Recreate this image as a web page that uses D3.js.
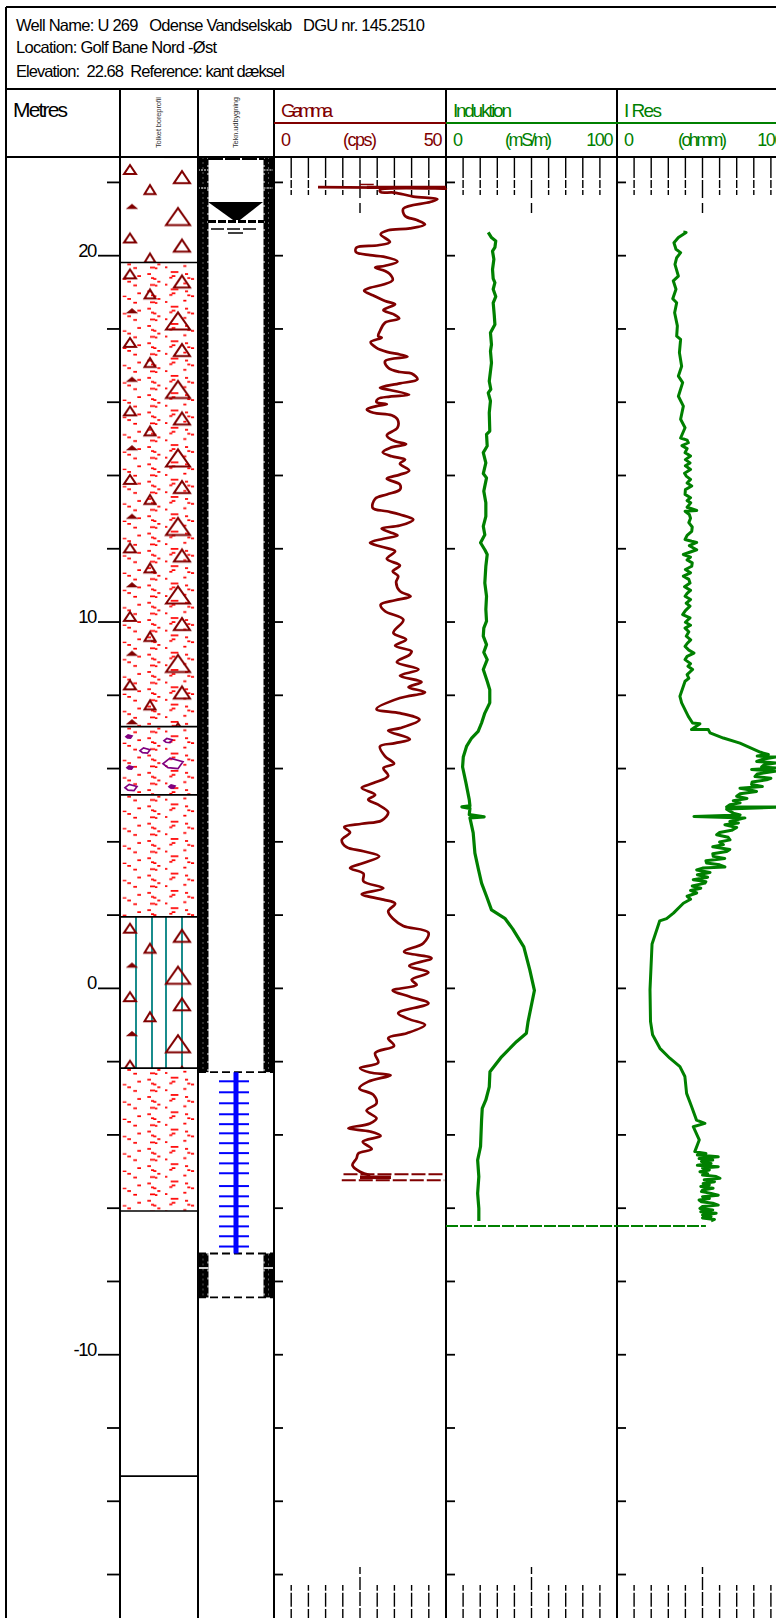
<!DOCTYPE html>
<html lang="en">
<head>
<meta charset="UTF-8">
<title>U 269 well log</title>
<script src="https://d3js.org/d3.v7.min.js"></script>
<style>
    body { margin: 0; background: #fff; }
    svg { display: block; }
    text { font-family: "Liberation Sans", Arial, sans-serif; white-space: pre; }
    .axis path { display: none; }
    .axis line { stroke: #000; stroke-width: 1.8px; }
</style>
</head>
<body>
<svg id="log" width="776" height="1618"></svg>
<script>
// header text
var headerLines = ["Well Name: U 269   Odense Vandselskab   DGU nr. 145.2510", "Location: Golf Bane Nord -Øst", "Elevation:  22.68  Reference: kant dæksel"];

// elevation ticks (metres)
var minorTicks = [22, 18, 16, 14, 12, 8, 6, 4, 2, -2, -4, -6, -8, -12, -14, -16];
var majorTicks = [20, 10, 0, -10];

// gamma log
var gammaDepth = [21.86, 21.82, 21.78, 21.72, 21.71, 21.60, 21.53, 21.45, 21.27, 21.07, 20.96, 20.84, 20.73, 20.68, 20.57, 20.36, 20.27, 20.21, 20.09, 20.00, 19.96, 19.83, 19.71, 19.66, 19.57, 19.48, 19.32, 19.20, 19.11, 19.03, 18.90, 18.75, 18.66, 18.50, 18.39, 18.27, 18.16, 17.93, 17.79, 17.75, 17.63, 17.47, 17.36, 17.29, 17.23, 17.11, 16.93, 16.81, 16.77, 16.61, 16.50, 16.38, 16.32, 16.19, 16.14, 16.08, 15.99, 15.93, 15.88, 15.79, 15.70, 15.63, 15.52, 15.29, 15.08, 14.92, 14.84, 14.74, 14.62, 14.51, 14.42, 14.31, 14.12, 14.01, 13.90, 13.74, 13.60, 13.47, 13.35, 13.10, 13.01, 12.92, 12.78, 12.62, 12.54, 12.44, 12.35, 12.26, 12.15, 12.04, 11.92, 11.71, 11.53, 11.37, 11.24, 11.07, 10.83, 10.69, 10.58, 10.46, 10.28, 10.05, 9.69, 9.51, 9.34, 9.19, 9.10, 8.89, 8.69, 8.52, 8.35, 8.21, 8.07, 7.91, 7.61, 7.50, 7.32, 7.09, 7.02, 6.79, 6.68, 6.59, 6.32, 6.12, 6.00, 5.79, 5.59, 5.46, 5.27, 5.14, 5.00, 4.79, 4.57, 4.48, 4.39, 4.24, 4.04, 3.84, 3.73, 3.59, 3.41, 3.27, 3.12, 2.91, 2.72, 2.56, 2.41, 2.30, 2.09, 1.88, 1.69, 1.51, 1.22, 0.99, 0.81, 0.60, 0.42, 0.22, 0.08, -0.07, -0.24, -0.42, -0.69, -0.86, -1.01, -1.24, -1.37, -1.58, -1.78, -2.04, -2.19, -2.31, -2.38, -2.56, -2.74, -2.92, -3.15, -3.35, -3.56, -3.70, -3.83, -3.92, -4.04, -4.20, -4.40, -4.52, -4.65, -4.84, -5.02, -5.12];
var gammaCps = [12.8, 50, 30.8, 31, 34.9, 40.5, 47.5, 45.4, 37.6, 38.1, 41.5, 43.9, 39.5, 33.2, 31.0, 33.7, 30.3, 24.0, 23.8, 27.9, 31.8, 35.9, 32.3, 29.4, 32.3, 33.7, 34.5, 31.8, 27.9, 26.2, 28.9, 32.3, 35.2, 31.8, 34.7, 36.4, 32.3, 30.8, 30.3, 31.3, 28.1, 29.8, 32.8, 36.6, 38.8, 32.3, 33.2, 36.6, 40.0, 41.7, 36.6, 30.8, 33.7, 39.3, 33.7, 30.3, 29.8, 32.8, 29.8, 27.0, 28.9, 34.2, 35.9, 35.9, 32.8, 35.2, 38.4, 33.7, 31.6, 34.2, 38.1, 36.6, 39.3, 36.6, 32.8, 36.6, 36.6, 32.8, 29.4, 28.7, 32.8, 36.6, 40.5, 36.6, 31.3, 33.7, 35.9, 31.8, 27.9, 31.3, 35.2, 32.8, 36.6, 34.5, 36.1, 35.5, 36.6, 39.7, 35.2, 31.0, 32.3, 37.6, 34.7, 38.4, 35.2, 40.0, 39.5, 35.7, 42.0, 36.6, 42.9, 39.1, 43.9, 36.6, 29.8, 36.6, 42.3, 36.6, 33.2, 39.5, 35.2, 30.8, 32.3, 34.9, 31.8, 33.2, 28.9, 25.5, 29.4, 27.4, 30.3, 33.2, 31.3, 25.5, 20.4, 22.1, 19.7, 21.1, 26.0, 30.6, 26.0, 22.1, 26.0, 26.0, 31.8, 25.5, 31.8, 35.2, 33.2, 34.7, 37.6, 44.9, 43.4, 37.8, 45.8, 39.3, 44.9, 40.0, 41.5, 34.5, 39.5, 44.9, 36.1, 39.5, 43.9, 38.6, 33.2, 34.9, 29.4, 30.3, 25.0, 27.9, 33.9, 27.4, 24.8, 28.9, 29.8, 26.9, 29.8, 27.9, 21.6, 27.9, 31.0, 25.8, 28.4, 24.5, 24.0, 22.8, 25.0, 28.0];
// flat spikes at both ends of the gamma run
var gammaSpikeDepth = [21.93, 21.85, -5.09, -5.17, -5.25];
var gammaSpikeFrom = [25, 27, 20.2, 25, 19.7];
var gammaSpikeTo = [29, 50, 50, 34, 49.5];
var gammaSpikeWidth = [1.5, 3.4, 2, 3.6, 2];
var gammaSpikeDash = [null, null, "14,3", null, "14,3"];

// induction log
var indDepth = [20.62, 20.48, 20.39, 20.21, 20.11, 19.89, 19.61, 19.36, 19.25, 19.07, 18.87, 18.70, 18.38, 18.11, 17.88, 17.56, 17.38, 17.06, 16.56, 16.34, 16.24, 16.02, 15.70, 15.20, 15.11, 14.79, 14.61, 14.33, 14.04, 13.92, 13.56, 13.24, 12.87, 12.60, 12.37, 12.15, 11.96, 11.83, 11.51, 11.05, 10.69, 10.33, 10.01, 9.82, 9.60, 9.37, 9.16, 8.96, 8.69, 8.37, 8.14, 7.78, 7.50, 7.23, 7.00, 6.82, 6.59, 6.30, 6.03, 5.59, 5.14, 4.97, 4.94, 4.90, 4.73, 4.67, 4.64, 4.23, 3.68, 3.27, 2.86, 2.50, 2.13, 1.90, 1.61, 1.12, 0.49, -0.07, -0.92, -1.24, -1.47, -1.88, -2.29, -2.70, -3.06, -3.29, -3.61, -4.33, -4.70, -5.15, -5.61, -6.02, -6.36];
var indValue = [24.7, 26.6, 29.1, 28.6, 27.2, 28.0, 27.2, 27.6, 28.6, 27.6, 29.1, 27.6, 28.2, 28.6, 26.0, 26.6, 26.0, 26.6, 25.3, 26.2, 24.7, 26.0, 25.3, 25.6, 23.7, 24.1, 21.8, 23.3, 21.8, 23.7, 22.1, 23.3, 23.3, 21.8, 22.7, 20.2, 22.7, 24.1, 23.3, 22.7, 23.7, 23.3, 23.7, 22.1, 21.8, 23.7, 22.1, 24.1, 21.8, 24.1, 25.6, 25.6, 22.7, 20.8, 18.8, 15.0, 12.0, 10.1, 9.7, 11.7, 13.6, 14.0, 9.3, 14.0, 13.6, 22.3, 14.0, 15.9, 16.9, 18.8, 20.8, 23.7, 26.6, 34.4, 39.0, 45.5, 49.0, 51.7, 48.0, 47.0, 41.2, 32.5, 25.7, 25.3, 23.3, 21.2, 20.8, 20.2, 18.5, 19.2, 18.5, 19.2, 19.2];

// resistivity log
var resDepth = [20.63, 20.62, 20.48, 20.34, 20.16, 20.07, 19.93, 19.75, 19.43, 19.30, 19.07, 18.81, 18.70, 18.43, 18.07, 17.79, 17.70, 17.34, 16.97, 16.70, 16.52, 16.15, 15.88, 15.52, 15.29,
    15.01, 14.95, 14.88, 14.80, 14.72, 14.61, 14.52, 14.42, 14.33, 14.25, 14.15, 14.05, 13.97, 13.88, 13.78, 13.70, 13.60, 13.47, 13.38, 13.30, 13.24, 13.12, 13.03, 13.01, 12.92, 12.82, 12.70, 12.58, 12.46, 12.35, 12.24, 12.19, 12.16, 12.07, 11.96, 11.83, 11.76, 11.68, 11.60, 11.51, 11.42, 11.33, 11.24, 11.15, 11.05, 10.95, 10.85, 10.77, 10.69, 10.60, 10.50, 10.42, 10.30, 10.19, 10.10, 9.98, 9.90, 9.82, 9.72, 9.60, 9.50, 9.40, 9.32, 9.22, 9.14, 9.05, 8.96, 8.85, 8.78, 8.69, 8.55, 8.45, 8.37,
    7.96, 7.78, 7.41, 7.23, 7.21, 7.05, 7.05, 6.96, 6.82, 6.68,
    6.50, 6.43, 6.37, 6.33, 6.30, 6.24, 6.18, 6.14, 6.09, 6.03, 6.00, 5.96, 5.91, 5.84, 5.77, 5.72, 5.68, 5.62, 5.55, 5.50, 5.45, 5.40, 5.36, 5.30, 5.23, 5.17, 5.11, 5.05, 5.00, 4.94, 4.94, 4.88, 4.77, 4.72, 4.68, 4.64, 4.54, 4.50, 4.45, 4.38, 4.30, 4.24, 4.18, 4.11, 4.04, 3.98, 3.91, 3.85, 3.78, 3.72, 3.66, 3.59, 3.53, 3.47, 3.41, 3.36, 3.30, 3.27, 3.22, 3.15, 3.09, 3.02, 2.95, 2.90, 2.86, 2.78, 2.72, 2.66, 2.59, 2.50, 2.42, 2.31,
    2.04, 1.89, 1.83, 1.20, -0.05, -0.92, -1.28, -1.65, -1.92, -2.15, -2.42, -2.88, -3.24, -3.61, -3.70, -3.79, -4.15,
    -4.47, -4.52, -4.56, -4.61, -4.66, -4.70, -4.74, -4.79, -4.84, -4.88, -4.92, -4.97, -5.02, -5.07, -5.11, -5.15, -5.20, -5.24, -5.29, -5.34, -5.38, -5.42, -5.47, -5.52, -5.56, -5.61, -5.66, -5.70, -5.75, -5.79, -5.84, -5.88, -5.93, -5.97, -6.02, -6.06, -6.11, -6.15, -6.20, -6.24, -6.28, -6.32, -6.36];
var resValue = [38.8, 40.4, 35.9, 33.3, 34.5, 37.2, 34.9, 33.9, 35.9, 32.9, 34.5, 32.6, 34.9, 33.7, 35.3, 34.9, 37.2, 36.5, 37.8, 35.9, 38.4, 35.9, 38.8, 37.2, 39.8,
    37.2, 41, 41.7, 38, 41, 39.8, 43, 40, 42.7, 40, 43, 39.5, 40.5, 43, 41, 43.7, 40, 39.8, 43, 41, 43.1, 41, 46.6, 39.8, 42.3, 43, 42, 44, 43.7, 41, 39.8, 43.7, 46.6, 42.3, 46.6, 38.8, 43, 41, 44, 43.7, 40, 43, 38.8, 42, 42.7, 39.5, 43, 41, 39.8, 43, 40.5, 42.7, 40, 38.4, 42.7, 40, 43, 39.8, 42, 40.5, 43.1, 41, 39.8, 42, 45, 41, 39.8, 43, 41.5, 44.2, 41, 42, 39.8,
    36.8, 37.8, 41.7, 44.2, 48.5, 43.6, 53.4, 54.4, 62.2, 71.9,
    80.7, 84, 88.5, 82, 93, 85, 81.7, 93.4, 86, 84.6, 93.4, 78.7, 92.4, 82, 80.7, 90, 87.5, 79, 78.7, 85, 71.9, 78, 81.6, 72, 70, 76, 68, 72, 66, 64.1, 100, 64.1, 68, 72, 45, 74.8, 66, 71, 63.1, 70, 67, 60, 58.3, 65, 66.1, 60, 62.2, 56, 66, 64.1, 56, 56.3, 63, 52, 52.4, 60, 63.1, 50, 46.6, 54.4, 47, 53, 44.6, 52, 51.4, 44, 49, 43, 46.6, 41, 43, 38.8,
    33, 29, 25, 20.5, 19.3, 19.6, 20.8, 25.1, 30.9, 36.8, 39.7, 40.7, 43.6, 46.5, 51.4, 44.6, 48.1,
    45.5, 52, 47, 59.2, 48, 56, 49.4, 55, 47, 59.2, 50, 54, 48.5, 53, 50, 58, 60.2, 51, 57, 50.4, 54, 49, 56.2, 50, 49.4, 55, 59.2, 50, 54, 48, 49.4, 56, 59.2, 50, 48.5, 56, 49, 58, 50, 55, 50, 57, 55];

// lithology layers: top / bottom elevation and the hatching used
var layerTop = [22.65, 19.80, 7.13, 5.27, 1.94, -2.19];
var layerBottom = [19.80, 7.13, 5.27, 1.94, -2.19, -6.09];
var layerKind = ["tri", "dash+tri", "dash+pebble", "dash", "teal+tri", "dash"];
var extraBoundary = [-13.33];

// well construction
var filterTop = -2.30, filterBottom = -7.25, sumpBottom = -8.45;
var filterSlots = [-2.55, -2.85, -3.15, -3.45, -3.72, -3.97, -4.24, -4.51, -4.79, -5.06, -5.41, -5.69, -5.96, -6.24, -6.51, -6.78, -7.06];

var width = 776, height = 1618;
var svg = d3.select("#log");
var darkRed = "#800000", green = "#008000";

var y = d3.scaleLinear().domain([22.68, -17.2]).range([157, height]);
var xGamma = d3.scaleLinear().domain([0, 50]).range([274, 446]);
var xInd = d3.scaleLinear().domain([0, 100]).range([446, 617]);
var xRes = d3.scaleLinear().domain([0, 100]).range([617, 788]);
var tracks = [
    { name: "Gamma", unit: "(cps)", scale: xGamma, color: darkRed, maxLabel: "50", nameLen: 52, unitX: 343, unitLen: 34 },
    { name: "Induktion", unit: "(mS/m)", scale: xInd, color: green, maxLabel: "100", nameLen: 59, unitX: 505, unitLen: 47 },
    { name: "I Res", unit: "(ohmm)", scale: xRes, color: green, maxLabel: "100", nameLen: 38, unitX: 678, unitLen: 49 }
];

var defs = svg.append("defs");

// red dashes of the sand hatch, one tile
var dashTile = [[2.7, 16, 3.3], [7.3, 1, 3.3], [13.3, 4.7, 3.3], [17.3, 12.7, 3.3], [27.3, 10.7, 3.3], [30, 4.3, 4.7], [35, 5, 2], [37.3, 1, 2.7], [31, 14.7, 2.7], [33.3, 15.6, 2.7], [45, 4, 2], [50.7, 8.7, 7.3], [51.7, 12.7, 3.3], [49.3, 14.3, 2.7], [63.3, 2.7, 2.7], [65, 10.7, 2.7], [67.3, 14.7, 2.7], [71, 15.6, 2.7]];
// gravel triangles, one tile: centre x, base y, width, height, filled
var triTile = [[10, 16, 12, 9, 0], [62, 25, 16, 12, 0], [30, 36, 11, 9, 0], [12, 50, 7, 3, 1], [58, 67, 24, 17, 0]];
// pebbles of the 7.13-5.27 layer, relative to the layer top
var pebbles = [[9, 10, 3, 1], [48, 14, 4, 0], [25, 24, 5, 0], [53, 37, 10, 0], [10, 41, 3, 1], [11, 61, 6, 0], [52, 60, 3, 1]];

layerKind.forEach(function (kind, i) {
    var top = y(layerTop[i]);
    var h = y(layerBottom[i]) - top;
    var g = svg.append("g").attr("transform", "translate(120," + top + ")");

    if (kind.indexOf("dash") >= 0) {
        var p = defs.append("pattern").attr("id", "dash" + i).attr("patternUnits", "userSpaceOnUse")
            .attr("width", 78).attr("height", 17.3);
        p.selectAll("rect").data(dashTile).enter().append("rect")
            .attr("x", d => d[0]).attr("y", d => d[1]).attr("width", d => d[2] + .4).attr("height", 1.7)
            .attr("fill", "#f00");
        g.append("rect").attr("width", 78).attr("height", h).attr("fill", "url(#dash" + i + ")");
    }
    if (kind.indexOf("teal") >= 0) {
        g.selectAll("line.teal").data([16, 32, 46, 62]).enter().append("line")
            .attr("x1", d => d).attr("x2", d => d).attr("y1", 0).attr("y2", h)
            .attr("stroke", "#008080").attr("stroke-width", 1.8);
    }
    if (kind.indexOf("tri") >= 0) {
        var q = defs.append("pattern").attr("id", "tri" + i).attr("patternUnits", "userSpaceOnUse")
            .attr("width", 78).attr("height", 68.5);
        q.selectAll("path").data(triTile).enter().append("path")
            .attr("d", d => "M" + (d[0] - d[2] / 2) + "," + d[1] + "L" + d[0] + "," + (d[1] - d[3]) + "L" + (d[0] + d[2] / 2) + "," + d[1] + "Z")
            .attr("fill", d => d[4] ? darkRed : "none")
            .attr("stroke", darkRed).attr("stroke-width", 2);
        g.append("rect").attr("width", 78).attr("height", h).attr("fill", "url(#tri" + i + ")");
    }
    if (kind.indexOf("pebble") >= 0) {
        g.selectAll("path").data(pebbles).enter().append("path")
            .attr("transform", d => "translate(" + d[0] + "," + d[1] + ")")
            .attr("d", d => "M" + -d[2] + ",0L" + (-d[2] * .3) + "," + (-d[2] * .55) + "L" + d[2] + "," + (-d[2] * .2) + "L" + (d[2] * .5) + "," + (d[2] * .5) + "L" + (-d[2] * .5) + "," + (d[2] * .4) + "Z")
            .attr("fill", d => d[3] ? "#800080" : "none")
            .attr("stroke", "#800080").attr("stroke-width", 1.7);
    }
});
svg.selectAll("line.boundary").data(layerBottom.concat(extraBoundary)).enter().append("line")
    .attr("x1", 120).attr("x2", 198).attr("y1", d => y(d)).attr("y2", d => y(d))
    .attr("stroke", "#000").attr("stroke-width", 1.7);

// well construction column
var casing = svg.append("g");
var casingRuns = [[y.domain()[0], filterTop], [filterBottom, sumpBottom]];
casingRuns.forEach(function (run) {
    [198, 263.5].forEach(function (x, k) {
        casing.append("rect").attr("x", x).attr("y", y(run[0])).attr("width", 10.5).attr("height", y(run[1]) - y(run[0])).attr("fill", "#000");
        casing.append("line").attr("x1", x + 5).attr("x2", x + 5).attr("y1", y(run[0])).attr("y2", y(run[1]))
            .attr("stroke", "#fff").attr("stroke-opacity", .35).attr("stroke-width", 1).attr("stroke-dasharray", "2,3");
        // stepped inner edge of the casing
        var edge = k == 0 ? x + 10 : x + .5;
        casing.append("line").attr("x1", edge).attr("x2", edge).attr("y1", y(run[0])).attr("y2", y(run[1]))
            .attr("stroke", "#fff").attr("stroke-width", 1).attr("stroke-dasharray", "2,6");
    });
});
[[170, 1], [188, 1], [1268, 1.6]].forEach(function (d) {
    [198, 263.5].forEach(function (x) {
        casing.append("line").attr("x1", x).attr("x2", x + 10.5).attr("y1", d[0]).attr("y2", d[0])
            .attr("stroke", "#fff").attr("stroke-width", d[1]).attr("stroke-dasharray", d[1] == 1 ? "2,1" : null);
    });
});
// top cap, seal and backfill marks
casing.append("line").attr("x1", 208).attr("x2", 264).attr("y1", 159).attr("y2", 159).attr("stroke", "#000").attr("stroke-width", 2).attr("stroke-dasharray", "15,2");
casing.append("path").attr("d", "M208,202L263,202L240,220L233,220Z").attr("fill", "#000");
casing.append("line").attr("x1", 208).attr("x2", 264).attr("y1", 221.5).attr("y2", 221.5).attr("stroke", "#000").attr("stroke-width", 3).attr("stroke-dasharray", "8,2");
casing.append("line").attr("x1", 211).attr("x2", 258).attr("y1", 229).attr("y2", 229).attr("stroke", "#000").attr("stroke-width", 1.5).attr("stroke-dasharray", "13,3");
casing.append("line").attr("x1", 228).attr("x2", 243).attr("y1", 233).attr("y2", 233).attr("stroke", "#000").attr("stroke-width", 1.5);
// dashed ends of the filter and the sump
[filterTop, filterBottom, sumpBottom].forEach(function (m) {
    casing.append("line").attr("x1", 198).attr("x2", 274).attr("y1", y(m)).attr("y2", y(m))
        .attr("stroke", "#000").attr("stroke-width", 1.8).attr("stroke-dasharray", "8,4");
});
// filter
casing.append("line").attr("x1", 236).attr("x2", 236).attr("y1", y(filterTop)).attr("y2", y(filterBottom))
    .attr("stroke", "#00f").attr("stroke-width", 5);
casing.selectAll("line.slot").data(filterSlots).enter().append("line")
    .attr("x1", 219).attr("x2", 249).attr("y1", d => y(d)).attr("y2", d => y(d))
    .attr("stroke", "#00f").attr("stroke-width", 2);

// frame
var frameV = [6, 120, 198, 274, 446, 617];
svg.selectAll("line.frameV").data(frameV).enter().append("line")
    .attr("x1", d => d).attr("x2", d => d)
    .attr("y1", (d, i) => i == 0 ? 7 : 89).attr("y2", height)
    .attr("stroke", "#000").attr("stroke-width", 2);
svg.selectAll("line.frameH").data([7, 89, 157]).enter().append("line")
    .attr("x1", 6).attr("x2", width).attr("y1", d => d).attr("y2", d => d)
    .attr("stroke", "#000").attr("stroke-width", 2.2);

// header block
var headerLen = [409, 201, 269];
svg.selectAll("text.head").data(headerLines).enter().append("text")
    .attr("x", 16).attr("y", (d, i) => [31, 53, 77][i])
    .attr("font-size", 16.5).attr("textLength", (d, i) => headerLen[i]).attr("lengthAdjust", "spacing")
    .text(d => d);
svg.append("text").attr("x", 13).attr("y", 117).attr("font-size", 21).attr("textLength", 55).attr("lengthAdjust", "spacing").text("Metres");
[["Tolket boreprofil", 161], ["Tekn.udbygning", 238]].forEach(function (d) {
    svg.append("text").attr("transform", "translate(" + d[1] + ",148) rotate(-90)")
        .attr("font-size", 7.5).attr("fill", "#333").attr("textLength", 51).attr("lengthAdjust", "spacing").text(d[0]);
});

// elevation axis
var axisMinor = svg.append("g").attr("class", "axis").attr("transform", "translate(120,0)")
    .call(d3.axisLeft(y).tickValues(minorTicks).tickSize(13).tickFormat(""));
var axisMajor = svg.append("g").attr("class", "axis").attr("transform", "translate(120,0)")
    .call(d3.axisLeft(y).tickValues(majorTicks).tickSize(22).tickFormat(d => String(d)));
axisMajor.selectAll("text")
    .attr("x", -24).attr("y", 1).attr("dy", 0).attr("font-size", 18.5).attr("fill", "#000")
    .attr("font-family", "Liberation Sans").attr("letter-spacing", "-1.4px");

// tracks: header, ticks and broken grid lines
tracks.forEach(function (t) {
    var r = t.scale.range();
    var g = svg.append("g");
    g.append("line").attr("x1", r[0]).attr("x2", Math.min(r[1], width)).attr("y1", 123).attr("y2", 123)
        .attr("stroke", t.color).attr("stroke-width", 2);
    g.append("text").attr("x", r[0] + 7).attr("y", 117).attr("font-size", 19).attr("fill", t.color)
        .attr("textLength", t.nameLen).attr("lengthAdjust", "spacing").text(t.name);
    g.append("text").attr("x", r[0] + 7).attr("y", 146).attr("font-size", 18).attr("fill", t.color).text("0");
    g.append("text").attr("x", t.unitX).attr("y", 146).attr("font-size", 18).attr("fill", t.color)
        .attr("textLength", t.unitLen).attr("lengthAdjust", "spacing").text(t.unit);
    g.append("text").attr("x", r[1] - 5).attr("y", 146).attr("font-size", 18).attr("fill", t.color)
        .attr("text-anchor", "end").attr("letter-spacing", "-1.4px").text(t.maxLabel);

    svg.append("g").attr("class", "axis").attr("transform", "translate(" + r[0] + ",0)")
        .call(d3.axisRight(y).tickValues(minorTicks.concat(majorTicks)).tickSize(9).tickFormat(""));

    var values = t.scale.ticks(10).slice(1, -1);
    var mid = t.scale.domain()[1] / 2;
    svg.append("g").selectAll("line").data(values).enter().append("line")
        .attr("x1", d => t.scale(d)).attr("x2", d => t.scale(d))
        .attr("y1", 158).attr("y2", d => d == mid ? 213 : 195)
        .attr("stroke", "#000").attr("stroke-width", 1.4)
        .attr("stroke-dasharray", d => d == mid ? "20,2,18,5,10" : "20,2,8,2,6");
    svg.append("g").selectAll("line").data(values).enter().append("line")
        .attr("x1", d => t.scale(d)).attr("x2", d => t.scale(d))
        .attr("y1", d => d == mid ? 1567 : 1585).attr("y2", height)
        .attr("stroke", "#000").attr("stroke-width", 1.4)
        .attr("stroke-dasharray", d => d == mid ? "7,3,13,2,14,2,14" : "5.7,2,14,2.3,9");
});

// curves
function drawLog(depths, values, xScale, color, w, curve) {
    var line = d3.line().x(d => xScale(d[1])).y(d => y(d[0])).curve(curve);
    svg.append("path").attr("d", line(d3.zip(depths, values)))
        .attr("fill", "none").attr("stroke", color).attr("stroke-width", w).attr("stroke-linejoin", "round");
}
drawLog(gammaDepth, gammaCps, xGamma, darkRed, 2.7, d3.curveCatmullRom.alpha(0.5));
drawLog(indDepth, indValue, xInd, green, 3.2, d3.curveLinear);
drawLog(resDepth, resValue, xRes, green, 3, d3.curveLinear);

gammaSpikeDepth.forEach(function (m, i) {
    svg.append("line").attr("x1", xGamma(gammaSpikeFrom[i])).attr("x2", xGamma(gammaSpikeTo[i]))
        .attr("y1", y(m)).attr("y2", y(m)).attr("stroke", darkRed)
        .attr("stroke-width", gammaSpikeWidth[i]).attr("stroke-dasharray", gammaSpikeDash[i]);
});
// log end markers
[[xInd, 100], [xRes, 52]].forEach(function (d) {
    svg.append("line").attr("x1", d[0](0)).attr("x2", d[0](d[1])).attr("y1", y(-6.5)).attr("y2", y(-6.5))
        .attr("stroke", green).attr("stroke-width", 1.8).attr("stroke-dasharray", "12,2");
});
</script>
</body>
</html>
